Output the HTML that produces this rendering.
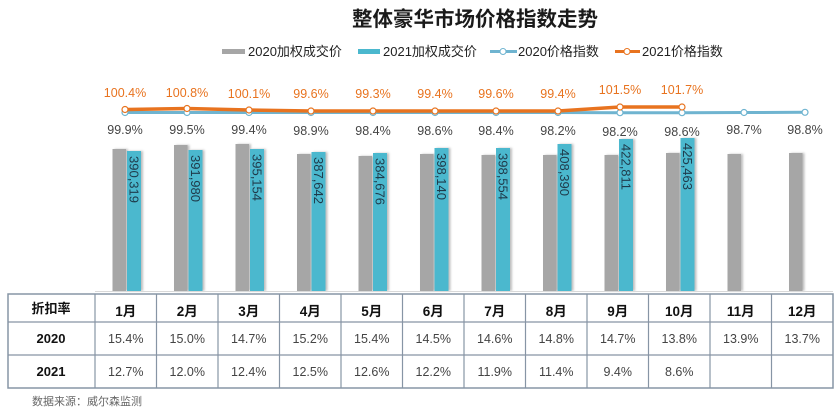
<!DOCTYPE html>
<html><head><meta charset="utf-8"><style>
html,body{margin:0;padding:0;background:#fff}
svg{display:block}
text{font-family:"Liberation Sans","Noto Sans CJK SC",sans-serif}
</style></head><body>
<svg width="840" height="412" viewBox="0 0 840 412" xmlns="http://www.w3.org/2000/svg">
<defs><filter id="sh" x="-20%" y="-5%" width="160%" height="110%"><feDropShadow dx="2" dy="0" stdDeviation="1" flood-color="#000" flood-opacity="0.25"/></filter></defs>
<rect width="840" height="412" fill="#fff"/>
<text x="475" y="26" text-anchor="middle" font-size="20.5" font-weight="bold" fill="#1a1a1a">整体豪华市场价格指数走势</text>
<g font-size="13" fill="#222">
<rect x="222" y="49" width="23" height="5" fill="#a6a6a6"/><text x="248" y="56">2020加权成交价</text>
<rect x="358" y="49" width="22" height="5" fill="#4bb8ce"/><text x="383" y="56">2021加权成交价</text>
<line x1="490" y1="51.5" x2="517" y2="51.5" stroke="#6fb4d0" stroke-width="3"/><circle cx="503" cy="51.5" r="3" fill="#fff" stroke="#6fb4d0"/><text x="518" y="56">2020价格指数</text>
<line x1="615" y1="51.5" x2="640" y2="51.5" stroke="#e8731f" stroke-width="3"/><circle cx="627" cy="51.5" r="3" fill="#fff" stroke="#e8731f"/><text x="642" y="56">2021价格指数</text>
</g>
<g id="bars"></g>
<line x1="95" y1="291.5" x2="833" y2="291.5" stroke="#d9d9d9"/>
<polyline points="125,112.5 187,112.5 249,112.5 311,112.5 373,112.5 435,112.5 496,112.5 558,112.5 620,112.7 682,112.7 744,112.5 805,112.3" fill="none" stroke="#6fb4d0" stroke-width="3"/>
<polyline points="125,109.5 187,108.5 249,110 311,111 373,111 435,111 496,111 558,111 620,107 682,107" fill="none" stroke="#e8731f" stroke-width="3.5"/>
<g fill="#fff" stroke="#6fb4d0" stroke-width="1.2">
<circle cx="125" cy="112.5" r="3"/><circle cx="187" cy="112.5" r="3"/><circle cx="249" cy="112.5" r="3"/><circle cx="311" cy="112.5" r="3"/><circle cx="373" cy="112.5" r="3"/><circle cx="435" cy="112.5" r="3"/><circle cx="496" cy="112.5" r="3"/><circle cx="558" cy="112.5" r="3"/><circle cx="620" cy="112.7" r="3"/><circle cx="682" cy="112.7" r="3"/><circle cx="744" cy="112.5" r="3"/><circle cx="805" cy="112.3" r="3"/>
</g>
<g fill="#fff" stroke="#e8731f" stroke-width="1.2">
<circle cx="125" cy="109.5" r="3"/><circle cx="187" cy="108.5" r="3"/><circle cx="249" cy="110" r="3"/><circle cx="311" cy="111" r="3"/><circle cx="373" cy="111" r="3"/><circle cx="435" cy="111" r="3"/><circle cx="496" cy="111" r="3"/><circle cx="558" cy="111" r="3"/><circle cx="620" cy="107" r="3"/><circle cx="682" cy="107" r="3"/>
</g>
<g font-size="12.5" fill="#e8731f" text-anchor="middle">
<text x="125" y="97">100.4%</text><text x="187" y="97">100.8%</text><text x="249" y="98">100.1%</text><text x="311" y="98">99.6%</text><text x="373" y="98">99.3%</text><text x="435" y="98">99.4%</text><text x="496" y="98">99.6%</text><text x="558" y="98">99.4%</text><text x="620" y="94">101.5%</text><text x="682" y="94">101.7%</text>
</g>
<g font-size="12.5" fill="#444" text-anchor="middle">
<text x="125" y="134">99.9%</text><text x="187" y="134">99.5%</text><text x="249" y="134">99.4%</text><text x="311" y="135">98.9%</text><text x="373" y="135">98.4%</text><text x="435" y="135">98.6%</text><text x="496" y="135">98.4%</text><text x="558" y="135">98.2%</text><text x="620" y="136">98.2%</text><text x="682" y="136">98.6%</text><text x="744" y="134">98.7%</text><text x="805" y="134">98.8%</text>
</g>
<g id="tbl"></g>
<text x="32" y="405" font-size="11" fill="#666">数据来源：威尔森监测</text>
<script>
var NS="http://www.w3.org/2000/svg";
function el(p,t,a,txt){var e=document.createElementNS(NS,t);for(var k in a)e.setAttribute(k,a[k]);if(txt!==undefined)e.textContent=txt;p.appendChild(e);return e;}
var g=document.getElementById('bars');
var gt=[149,145,144,154,156,154,155,155,155,153,154,153];
var bt=[151,150,149,152,153,148,148,144,139,138];
var bv=["390,319","391,980","395,154","387,642","384,676","398,140","398,554","408,390","422,811","425,463"];
for(var i=0;i<12;i++){
 var x0=95+61.5*i+17.5;
 el(g,'rect',{x:x0,y:gt[i],width:13.5,height:291-gt[i],fill:'#a6a6a6',filter:'url(#sh)'});
 if(i<10){
  el(g,'rect',{x:x0+14.5,y:bt[i],width:14,height:291-bt[i],fill:'#4bb8ce',filter:'url(#sh)'});
  var cx=x0+21.5, ty=bt[i]+5;
  el(g,'text',{x:cx,y:ty,'font-size':'13',fill:'#1f3a4a',transform:'rotate(90 '+cx+' '+ty+')','dominant-baseline':'central'},bv[i]);
 }
}
var t=document.getElementById('tbl');
var X=[8,95];for(var i=1;i<=12;i++)X.push(95+61.5*i);X[13]=833;
el(t,'rect',{x:8,y:294,width:825,height:94,fill:'#fff',stroke:'#8795a5','stroke-width':1.5});
for(var i=1;i<13;i++)el(t,'line',{x1:X[i],y1:294,x2:X[i],y2:388,stroke:'#8795a5','stroke-width':1.2});
el(t,'line',{x1:8,y1:322,x2:833,y2:322,stroke:'#8795a5','stroke-width':1.2});
el(t,'line',{x1:8,y1:355,x2:833,y2:355,stroke:'#8795a5','stroke-width':1.2});
var r1=["15.4%","15.0%","14.7%","15.2%","15.4%","14.5%","14.6%","14.8%","14.7%","13.8%","13.9%","13.7%"];
var r2=["12.7%","12.0%","12.4%","12.5%","12.6%","12.2%","11.9%","11.4%","9.4%","8.6%","",""];
el(t,'text',{x:51,y:313,'font-size':'13','font-weight':'bold','text-anchor':'middle',fill:'#111'},'折扣率');
el(t,'text',{x:51,y:343,'font-size':'13','font-weight':'bold','text-anchor':'middle',fill:'#111'},'2020');
el(t,'text',{x:51,y:376,'font-size':'13','font-weight':'bold','text-anchor':'middle',fill:'#111'},'2021');
for(var i=0;i<12;i++){
 var cx=(X[i+1]+X[i+2])/2;
 el(t,'text',{x:cx,y:316,'font-size':'13.5','font-weight':'bold','text-anchor':'middle',fill:'#111'},(i+1)+'月');
 el(t,'text',{x:cx,y:343,'font-size':'12.5','text-anchor':'middle',fill:'#444'},r1[i]);
 if(r2[i])el(t,'text',{x:cx,y:376,'font-size':'12.5','text-anchor':'middle',fill:'#444'},r2[i]);
}
</script>
</svg>
</body></html>
